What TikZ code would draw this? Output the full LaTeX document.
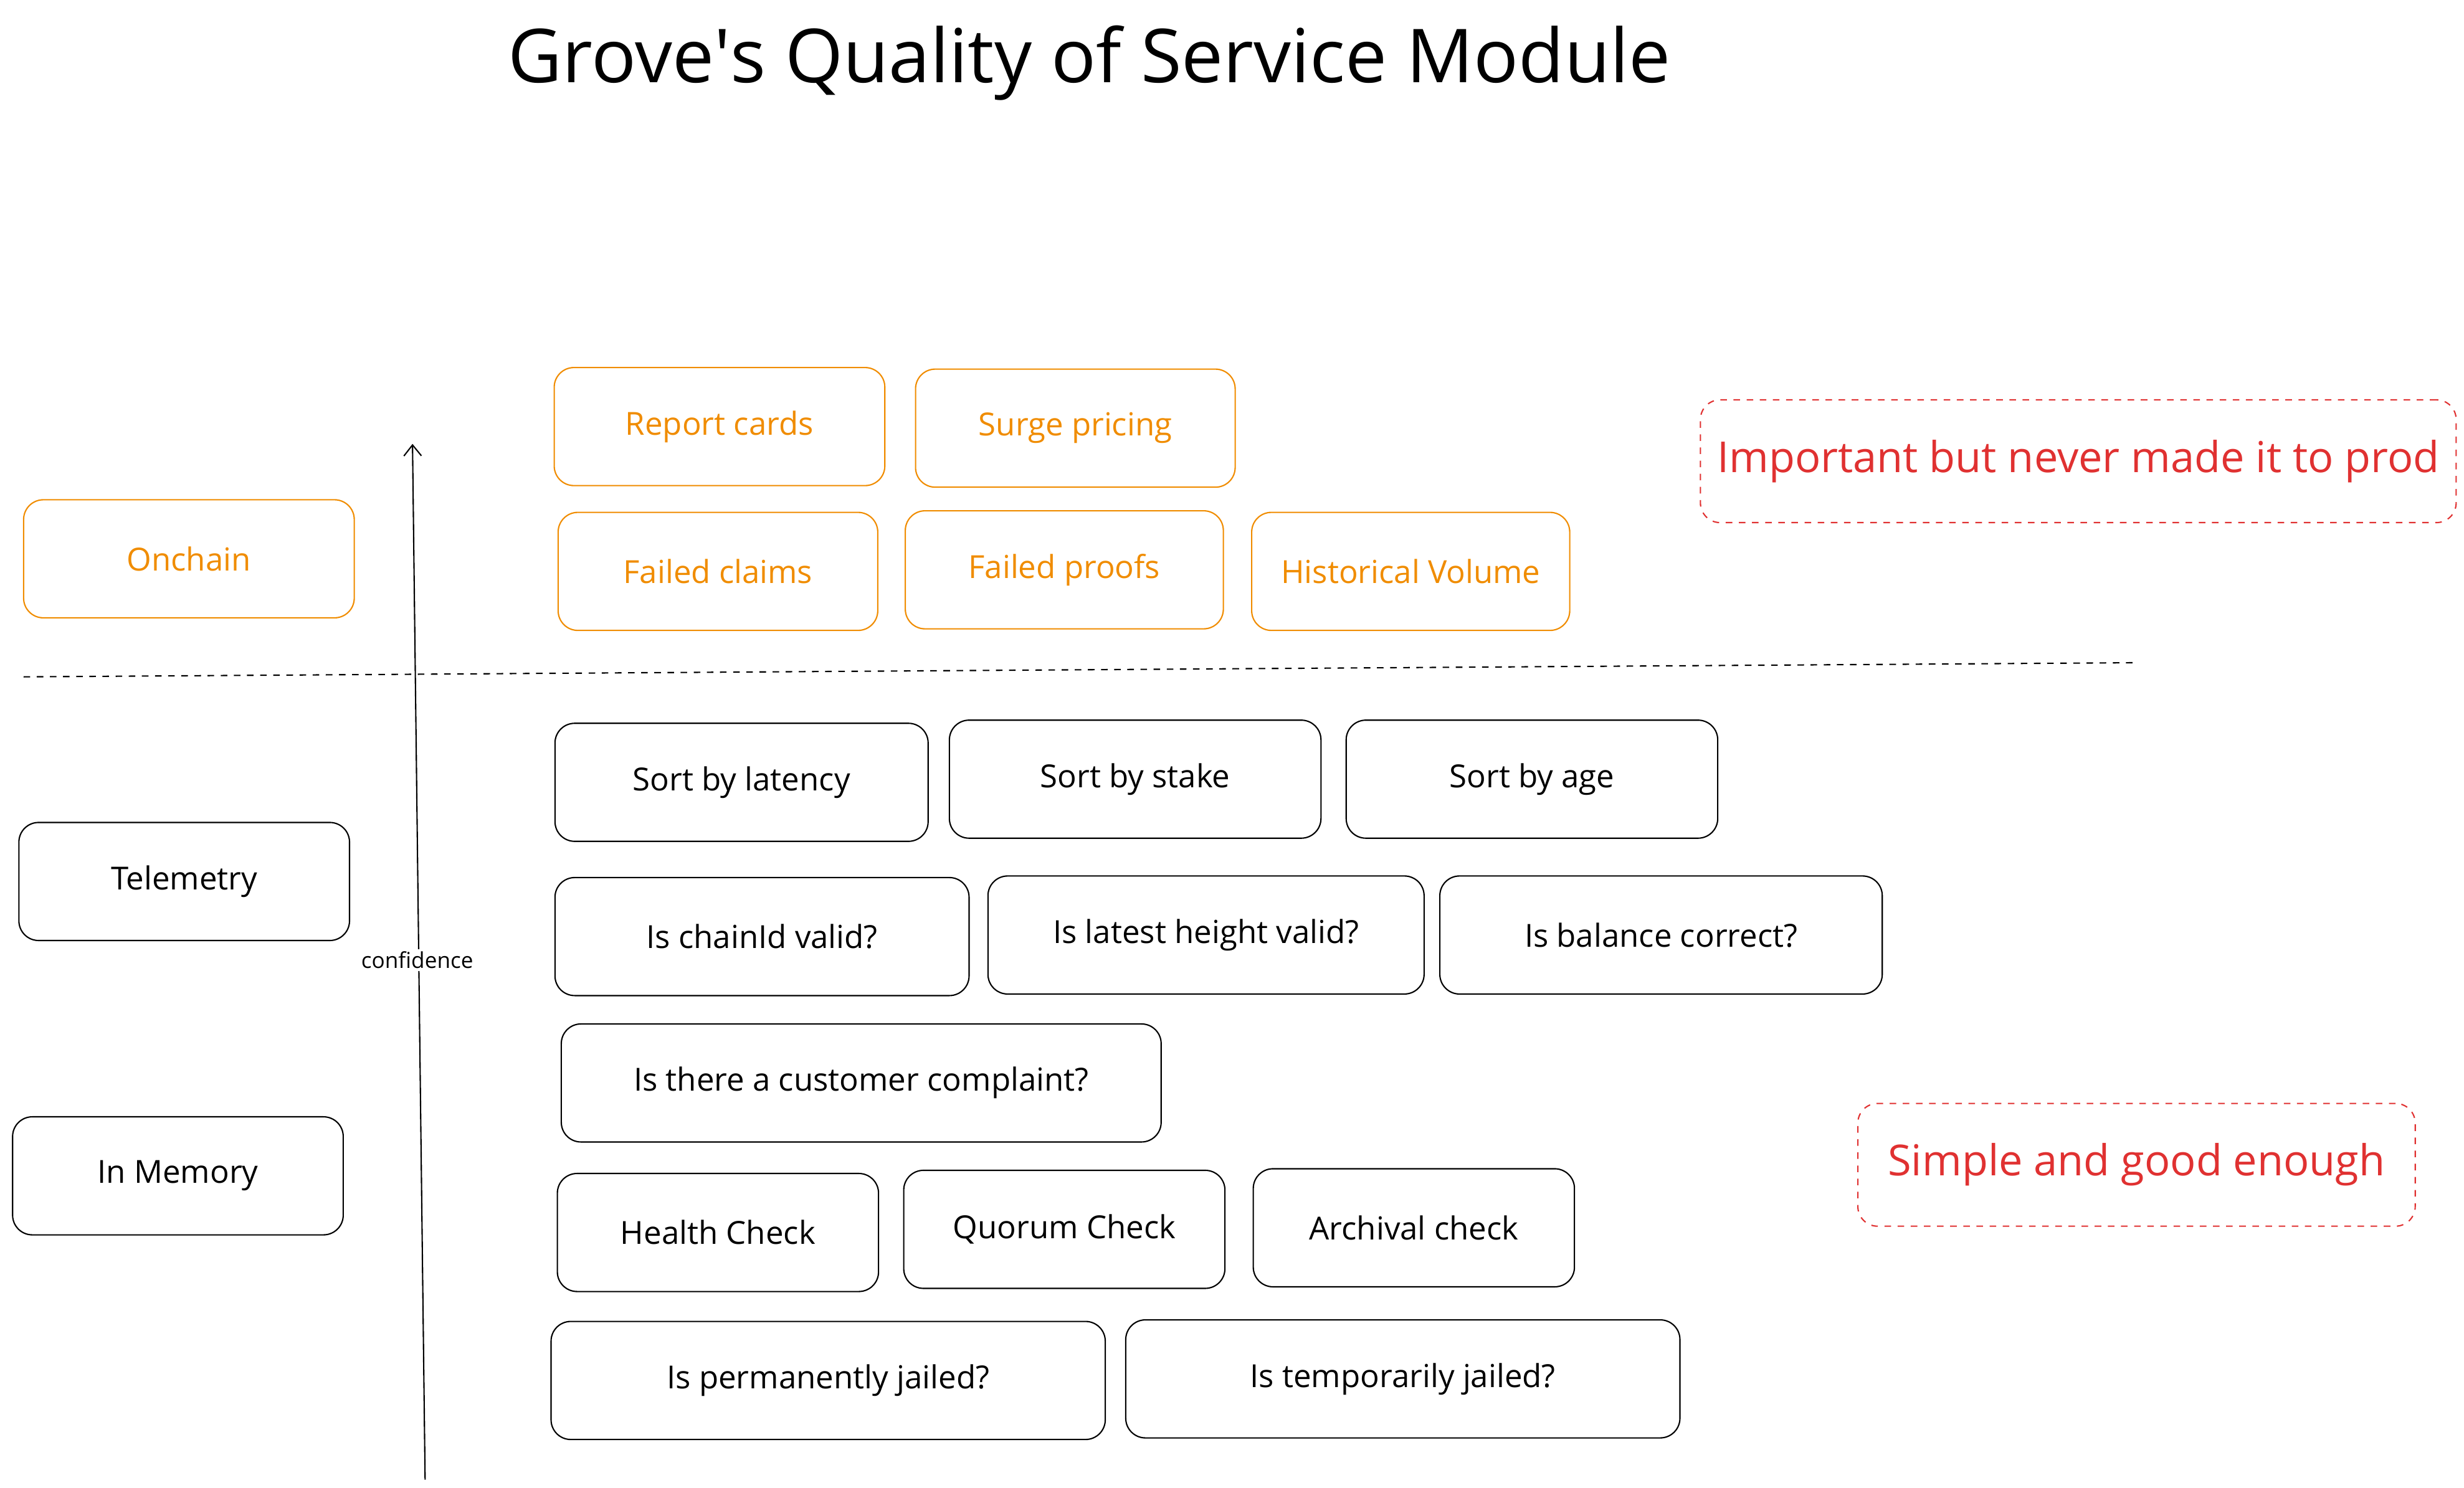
\documentclass[tikz,border=0pt]{standalone}
\usepackage{fontspec}
\setmainfont{Open Sans}
\usetikzlibrary{arrows.meta}
\definecolor{qosorange}{HTML}{F08C00}
\definecolor{qosred}{HTML}{E03131}
\begin{document}
\begin{tikzpicture}[x=0.02527cm, y=-0.02527cm,
      box/.style = {
        rectangle, draw=black, semithick, rounded corners=9pt, text centered,
        font=\fontsize{14.5}{17}\selectfont, minimum height=75*0.02527cm },
      box-orange/.style = { box, draw=qosorange, text=qosorange },
      note/.style = {
        rectangle, draw=qosred, dashed, semithick, rounded corners=9pt, text=qosred,
        font=\fontsize{19.5}{23}\selectfont, minimum height=78*0.02527cm },
      line/.style = { draw, semithick, -{Straight Barb[length=5pt,width=8pt]} },
      line-dashed/.style = { draw, semithick, dashed }]
    \useasboundingbox (0,0) rectangle (1565,945);
    \node (title) at (692,40) {\fontsize{34}{40}\selectfont Grove\textquotesingle s Quality of Service Module};
    % onchain row
    \node [box-orange, minimum width=210*0.02527cm] (onchain) at (120,355) {Onchain};
    \node [box-orange, minimum width=210*0.02527cm] (report) at (457,271) {Report cards};
    \node [box-orange, minimum width=203*0.02527cm] (surge) at (683,272) {Surge pricing};
    \node [box-orange, minimum width=203*0.02527cm] (claims) at (456,363) {Failed claims};
    \node [box-orange, minimum width=202*0.02527cm] (proofs) at (676,362) {Failed proofs};
    \node [box-orange, minimum width=202*0.02527cm] (volume) at (896,363) {Historical Volume};
    \node [note, minimum width=480*0.02527cm] (prod) at (1320,293) {Important but never made it to prod};
    % separator
    \coordinate (sepl) at (15,430);
    \coordinate (sepr) at (1358,421);
    \draw[line-dashed] (sepl) -- (sepr);
    % telemetry
    \node [box, minimum width=210*0.02527cm] (telemetry) at (117,560) {Telemetry};
    \node [box, minimum width=237*0.02527cm] (latency) at (471,497) {Sort by latency};
    \node [box, minimum width=236*0.02527cm] (stake) at (721,495) {Sort by stake};
    \node [box, minimum width=236*0.02527cm] (age) at (973,495) {Sort by age};
    \node [box, minimum width=263*0.02527cm] (chainid) at (484,595) {Is chainId valid?};
    \node [box, minimum width=277*0.02527cm] (height) at (766,594) {Is latest height valid?};
    \node [box, minimum width=281*0.02527cm] (balance) at (1055,594) {Is balance correct?};
    % in memory
    \node [box, minimum width=381*0.02527cm] (complaint) at (547,688) {Is there a customer complaint?};
    \node [box, minimum width=210*0.02527cm] (memory) at (113,747) {In Memory};
    \node [box, minimum width=204*0.02527cm] (health) at (456,783) {Health Check};
    \node [box, minimum width=204*0.02527cm] (quorum) at (676,781) {Quorum Check};
    \node [box, minimum width=204*0.02527cm] (archival) at (898,780) {Archival check};
    \node [note, minimum width=354*0.02527cm] (simple) at (1357,740) {Simple and good enough};
    \node [box, minimum width=352*0.02527cm] (permanent) at (526,877) {Is permanently jailed?};
    \node [box, minimum width=352*0.02527cm] (temporary) at (891,876) {Is temporarily jailed?};
    % confidence axis
    \coordinate (axisbot) at (270,940);
    \coordinate (axistop) at (262,282);
    \draw[line] (axisbot) -- (axistop);
    \node [fill=white, inner sep=1pt, font=\fontsize{10}{12}\selectfont] (conf) at (265,610) {confidence};
  \end{tikzpicture}
\end{document}
